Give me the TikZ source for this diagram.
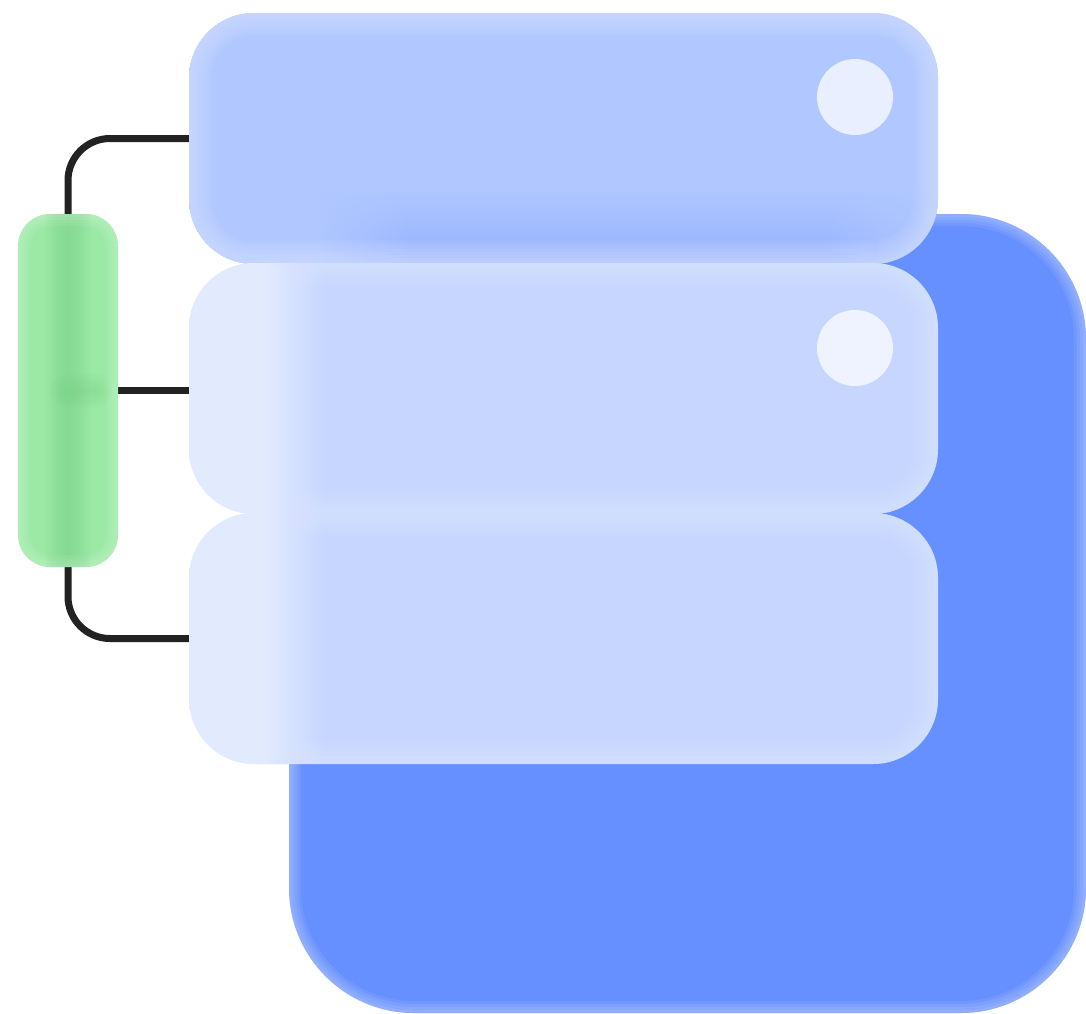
\documentclass[tikz,border=0pt]{standalone}
\usetikzlibrary{positioning,fadings}

\definecolor{backblue}{HTML}{6690FF}
\definecolor{topglass}{HTML}{B0C7FF}
\definecolor{deepglass}{HTML}{9DB8FF}
\definecolor{midglass}{HTML}{C6D6FF}
\definecolor{paleglass}{HTML}{E2EAFE}
\definecolor{pillgreen}{HTML}{9CE9A6}
\definecolor{pilldark}{HTML}{7ED68B}
\definecolor{wirecol}{HTML}{222222}

\pgfdeclarehorizontalshading{sideglass}{100bp}{
    color(0bp)=(paleglass); color(30bp)=(paleglass);
    color(32bp)=(paleglass!50!midglass); color(34bp)=(midglass); color(100bp)=(midglass)}
\pgfdeclareverticalshading{underglass}{100bp}{
    color(0bp)=(deepglass); color(30bp)=(deepglass);
    color(40bp)=(topglass); color(100bp)=(topglass)}

% soft light edge inside a rounded shape
\newcommand{\softrim}[4][white]{
    \foreach \w in {1,...,#2}
        \draw[#1, opacity=#3, line width=\w*6pt, rounded corners=#4]
            (path picture bounding box.south west) rectangle (path picture bounding box.north east);
}

\tikzset{
    shape box/.style={rectangle, inner sep=0pt, minimum width=#1},
    glass box/.style={shape box=749pt, minimum height=251pt, rounded corners=65pt},
    dot/.style={circle, inner sep=0pt, minimum size=76pt, fill=white, opacity=.72},
    wire/.style={draw=wirecol, line width=7pt}
}

\begin{document}
\begin{tikzpicture}[x=1pt, y=-1pt]
    \useasboundingbox (0,0) rectangle (1086,1013);

    \node [shape box=797pt, minimum height=799pt, rounded corners=125pt, fill=backblue,
        path picture={\softrim{4}{.08}{125pt}}] (back) at (687.5,613.5) {};

    \node [shape box=100pt, minimum height=353pt, rounded corners=32pt] (pill) at (68,390.5) {};
    \node [glass box] (topbox) at (563.5,138.5) {};
    \node [glass box] (midbox) at (563.5,388.5) {};
    \node [glass box] (lowbox) at (563.5,638.5) {};

    \draw [wire, rounded corners=42pt] (pill.north) |- (topbox.west);
    \draw [wire] (pill.east) -- (pill.east -| midbox.west);
    \draw [wire, rounded corners=42pt] (pill.south) |- (lowbox.west);

    % path picture coordinates count from the node's centre
    \node [shape box=100pt, minimum height=353pt, rounded corners=32pt, fill=pillgreen,
        path picture={
            \foreach \w in {6,10,...,46}
                \draw[pilldark, opacity=.08, line width=\w pt] (pill.north) -- (pill.south);
            \foreach \w in {4,8,...,36}
                \draw[pilldark, opacity=.06, line width=\w pt, line cap=round] (0,0) -- (26,0);
            \softrim{4}{.06}{32pt}
        }] at (pill) {};

    \node [glass box, shading=underglass,
        path picture={
            \fill[topglass, sharp corners] (-375,-126) rectangle (-245,126);
            \fill[topglass, sharp corners, path fading=east] (-245,-126) rectangle (-150,126);
            \fill[topglass, sharp corners, path fading=west] (260,-126) rectangle (375,126);
            \softrim[paleglass]{8}{.08}{65pt}
        }] at (topbox) {};
    \node [glass box, shading=sideglass, path picture={\softrim[paleglass]{8}{.08}{65pt}}] at (midbox) {};
    \node [glass box, shading=sideglass, path picture={\softrim[paleglass]{8}{.08}{65pt}}] at (lowbox) {};

    \node [dot] (topdot) at (855,97) {};
    \node [dot] (middot) at (855,348) {};
\end{tikzpicture}
\end{document}
